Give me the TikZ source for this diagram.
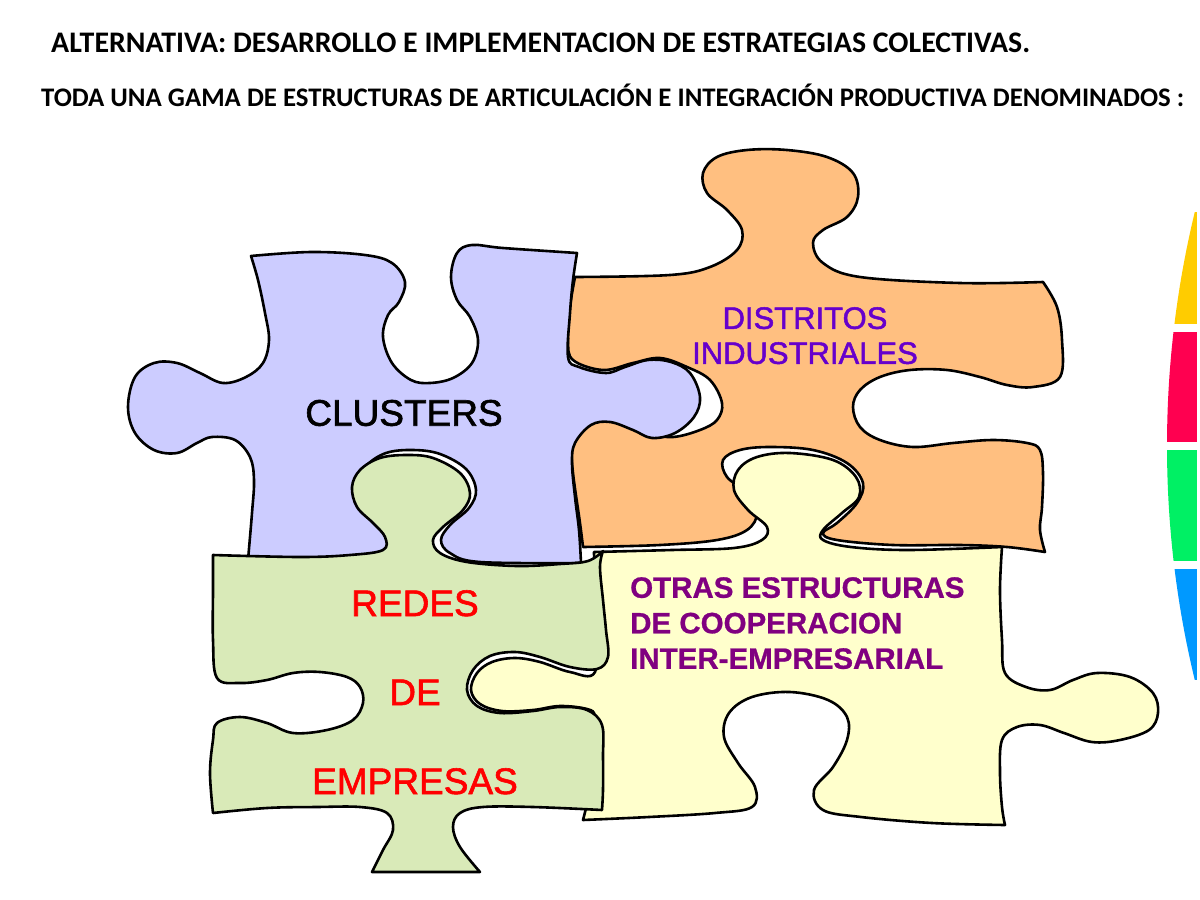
\documentclass[tikz,border=0pt]{standalone}
\usepackage{fontspec}
\setmainfont{Liberation Sans}
\newfontfamily\calfont{Carlito}
\newfontfamily\lblfont{Liberation Sans}[FakeBold=1.6]
\newfontfamily\lblboldfont{Liberation Sans Bold}[FakeBold=0.8]
\definecolor{lav}{HTML}{CCCCFF}
\definecolor{ora}{HTML}{FFBF80}
\definecolor{grn}{HTML}{D9EAB8}
\definecolor{yel}{HTML}{FFFFCC}
\definecolor{violeta}{HTML}{6600CC}
\definecolor{purp}{HTML}{800080}
\definecolor{rojo}{HTML}{FF0000}
\definecolor{arcY}{HTML}{FFCC00}
\definecolor{arcR}{HTML}{FF0050}
\definecolor{arcG}{HTML}{00F064}
\definecolor{arcB}{HTML}{0099FF}
\tikzset{
  piece/.style={draw=black, line width=2.6pt, line join=round},
  sm/.style={smooth, tension=0.6},
  titletext/.style={anchor=base west, inner sep=0pt, font=\calfont\bfseries},
  label/.style={inner sep=0pt, font=\lblfont\fontsize{37}{40}\selectfont}
}
\begin{document}
\begin{tikzpicture}[x=1pt,y=-1pt]
\useasboundingbox (0,0) rectangle (1200,900);
\fill[white] (0,0) rectangle (1200,900);

% right colored arcs
\begin{scope}
\clip (2158,446) circle (991);
\fill[arcY] (1100,212) rectangle (1197,324);
\fill[arcR] (1100,332) rectangle (1197,442);
\fill[arcG] (1100,450) rectangle (1197,561);
\fill[arcB] (1100,569) rectangle (1197,680);
\end{scope}

% orange piece (DISTRITOS)
\path[piece, fill=ora]
  plot[sm] coordinates {(575,277) (670,275) (710,267) (737,250) (742,230) (727,210) (707,193) (703,173) (717,157) (747,150) (787,150) (827,157) (853,173) (858,197) (847,217) (823,230) (813,243) (823,263) (860,277) (960,283) (1043,282)}
  -- plot[sm] coordinates {(1043,282) (1057,307) (1062,340) (1060,377) (1033,387) (1007,385) (980,377) (947,370) (910,370) (880,377) (860,390) (853,407) (860,427) (880,440) (913,447) (953,443) (993,440) (1027,443) (1040,450) (1043,473) (1042,507) (1040,530) (1045,552)}
  -- plot[sm] coordinates {(1045,552) (1007,547) (960,545) (893,545) (837,540) (823,533) (837,523) (857,503) (863,483) (847,463) (813,450) (770,447) (740,450) (723,460) (727,477) (747,493) (757,513) (747,530) (717,540) (660,545) (583,547)}
  -- plot[sm] coordinates {(583,547) (580,523) (573,473) (572,447) (580,430) (607,418) (623,420) (650,433) (673,437) (700,430) (717,420) (722,403) (710,380) (687,367) (660,358) (633,363) (603,370) (573,360) (568,340) (570,307) (575,277)}
  -- cycle;

% lavender piece (CLUSTERS)
\path[piece, fill=lav]
  plot[sm] coordinates {(251,256) (311,252) (365,255) (392,263) (405,282) (399,302) (388,315) (383,337) (392,363) (411,380) (430,383) (453,378) (472,363) (478,340) (470,317) (457,300) (451,277) (457,253) (472,245) (503,248) (577,253)}
  -- plot[sm] coordinates {(577,253) (573,280) (570,313) (568,357) (579,367) (606,373) (625,367) (648,360) (671,362) (690,373) (700,397) (694,417) (675,433) (652,438) (633,430) (610,422) (591,425) (575,443) (572,463) (575,497) (579,530) (581,563)}
  -- plot[sm] coordinates {(581,563) (480,562) (450,553) (441,540) (450,525) (469,508) (476,490) (466,469) (440,454) (413,450) (386,453) (366,466) (357,484) (362,504) (378,520) (390,537) (380,556) (300,559) (248,560)}
  -- plot[sm] coordinates {(248,560) (252,513) (254,480) (250,457) (235,440) (212,437) (197,443) (177,453) (154,450) (135,433) (128,407) (135,377) (154,363) (177,363) (200,373) (223,383) (246,377) (263,363) (269,340) (265,313) (258,280) (251,256)}
  -- cycle;

% yellow piece (OTRAS)
\path[piece, fill=yel]
  plot[sm] coordinates {(594,552) (672,550) (734,548) (762,540) (767,527) (748,510) (734,490) (738,470) (757,457) (790,453) (833,460) (856,477) (859,497) (842,513) (823,530) (823,540) (851,547) (908,550) (1002,547)}
  -- plot[sm] coordinates {(1002,547) (1000,590) (1002,640) (1005,673) (1026,687) (1050,690) (1073,680) (1097,673) (1130,677) (1153,693) (1158,713) (1149,730) (1120,740) (1092,742) (1064,733) (1040,725) (1017,727) (1002,740) (1000,773) (1002,807) (1005,825)}
  -- plot[sm] coordinates {(1005,825) (932,823) (861,817) (823,810) (814,790) (833,767) (847,740) (847,717) (828,700) (790,692) (752,697) (729,713) (724,737) (738,763) (755,787) (752,807) (715,813) (649,817) (583,820)}
  -- plot[sm] coordinates {(583,820) (592,780) (595,740) (595,716) (587,709) (560,706) (533,710) (502,711) (480,704) (471,690) (477,673) (492,662) (515,658) (540,662) (570,672) (595,672) (595,620) (594,552)}
  -- cycle;

% green piece (REDES)
\path[piece, fill=grn]
  plot[sm] coordinates {(213,555) (300,557) (350,555) (383,550) (385,537) (373,523) (357,507) (352,487) (360,470) (380,458) (407,455) (433,458) (460,473) (470,493) (463,510) (443,527) (433,540) (440,553) (467,562) (517,566) (560,564) (588,561) (603,551)}
  -- plot[sm] coordinates {(603,551) (600,567) (603,600) (606,630) (608,657) (597,669) (570,667) (540,657) (515,652) (490,656) (473,670) (467,690) (477,706) (500,713) (533,711) (560,707) (587,710) (602,725) (603,757) (603,790) (602,810)}
  -- plot[sm] coordinates {(602,810) (533,807) (483,807) (460,813) (453,827) (460,847) (480,872)}
  -- plot[sm] coordinates {(372,872) (383,850) (393,830) (387,813) (360,807) (317,807) (267,808) (213,813)}
  -- plot[sm] coordinates {(213,813) (210,773) (213,740) (217,723) (240,717) (267,723) (293,733) (327,730) (353,720) (363,703) (360,687) (347,677) (320,672) (293,673) (267,680) (240,683) (217,678) (213,640) (213,590) (213,555)}
  -- cycle;

% titles
\node[titletext] (t1) at (51,52) {\resizebox{979pt}{!}{ALTERNATIVA: DESARROLLO E IMPLEMENTACION DE ESTRATEGIAS COLECTIVAS.}};
\node[titletext] (t2) at (41,106) {\resizebox{1143pt}{!}{TODA UNA GAMA DE ESTRUCTURAS DE ARTICULACIÓN E INTEGRACIÓN PRODUCTIVA DENOMINADOS :}};

% labels
\node[label] (clusters) at (404,413) {CLUSTERS};
\node[inner sep=0pt, anchor=north, align=center, text=violeta, font=\lblfont\fontsize{31}{35}\selectfont] (distritos) at (805,307) {DISTRITOS\\INDUSTRIALES};
\node[inner sep=0pt, anchor=north, align=center, text=rojo, font=\lblfont\fontsize{37}{89}\selectfont] (redes) at (415,590) {REDES\\DE\\EMPRESAS};
\node[inner sep=0pt, anchor=north west, align=left, text=purp, font=\lblboldfont\fontsize{29.5}{35.5}\selectfont] (otras) at (630,577) {OTRAS ESTRUCTURAS\\DE COOPERACION\\INTER-EMPRESARIAL};
\end{tikzpicture}
\end{document}
